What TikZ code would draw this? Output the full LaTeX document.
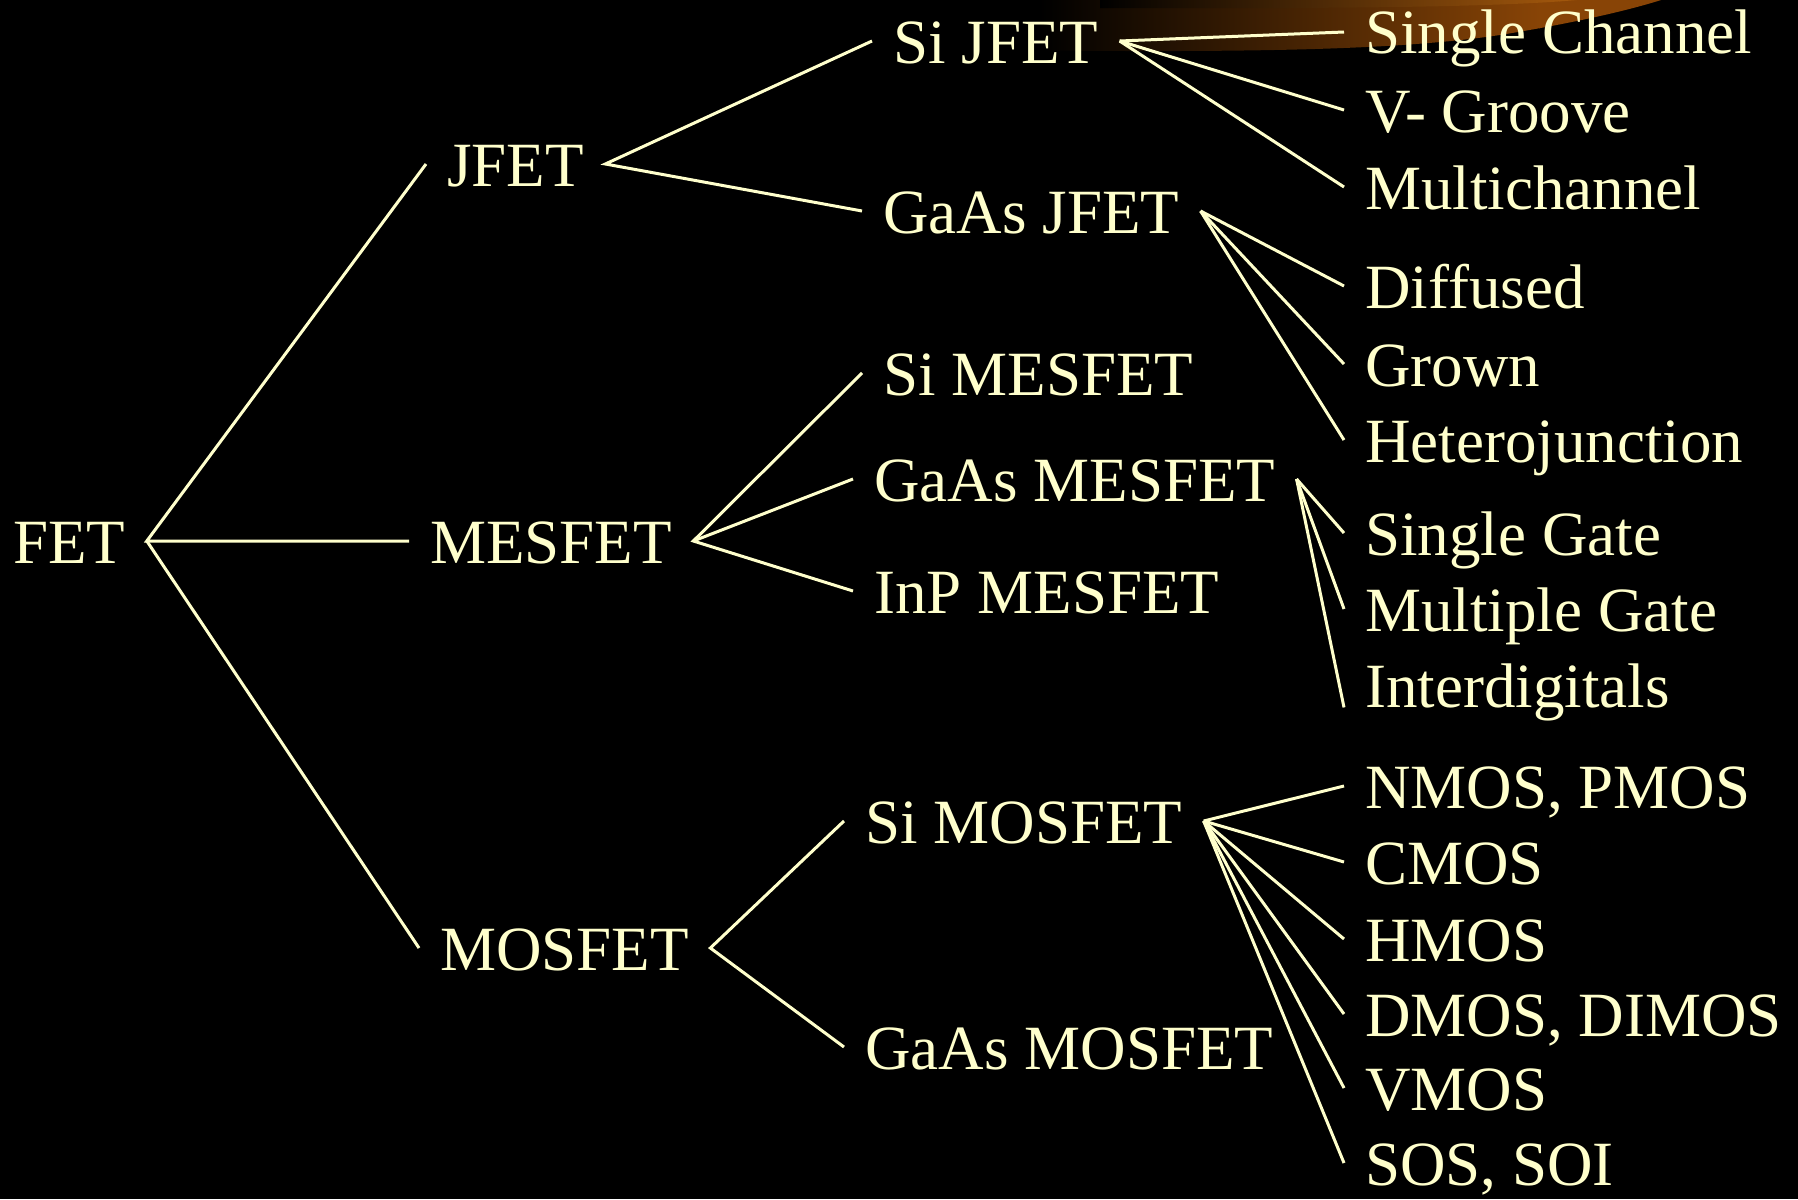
\documentclass[tikz,border=0pt]{standalone}
\usepackage{fontspec}
\setmainfont{Liberation Serif}
\definecolor{cream}{RGB}{255,255,204}
\definecolor{glowlo}{RGB}{136,68,6}
\definecolor{glowhi}{RGB}{160,86,12}

\begin{document}
\begin{tikzpicture}[x=0.5pt,y=-0.5pt,
  lbl/.style={anchor=base west, text=cream,
    font=\fontsize{31.5}{36}\selectfont,
    inner xsep=10.5pt, inner ysep=0pt,
    text height=22pt, text depth=0pt},
  link/.style={draw=cream, line width=1.5pt}]

% page frame and black background
\useasboundingbox (0,0) rectangle (1798,1199);
\fill[black] (0,0) rectangle (1798,1199);
\clip (0,0) rectangle (1798,1199);

% warm swoosh along the top edge
\begin{scope}
  \clip (1000,-5) -- (1000,50) .. controls (1250,53) and (1400,50) .. (1500,35)
        .. controls (1580,22) and (1640,8) .. (1676,-5) -- cycle;
  \shade[left color=black, right color=glowlo] (1040,-5) rectangle (1540,60);
  \fill[glowlo] (1539,-5) rectangle (1700,60);
\end{scope}
\begin{scope}
  \clip (1100,-5) -- (1100,8) .. controls (1400,9) and (1560,6) .. (1615,-5) -- cycle;
  \shade[left color=black, right color=glowhi] (1100,-5) rectangle (1560,12);
  \fill[glowhi] (1559,-5) rectangle (1640,12);
\end{scope}

% level 0
\node[lbl] (fet) at (-8,563) {FET};

% level 1
\node[lbl] (jfet)   at (426,186) {JFET};
\node[lbl] (mesfet) at (409,563) {MESFET};
\node[lbl] (mosfet) at (419,970) {MOSFET};

% level 2
\node[lbl] (sijfet)     at (872,63)   {Si JFET};
\node[lbl] (gaasjfet)   at (862,233)  {GaAs JFET};
\node[lbl] (simesfet)   at (862,395)  {Si MESFET};
\node[lbl] (gaasmesfet) at (853,501)  {GaAs MESFET};
\node[lbl] (inpmesfet)  at (853,613)  {InP MESFET};
\node[lbl] (simosfet)   at (844,843)  {Si MOSFET};
\node[lbl] (gaasmosfet) at (844,1069) {GaAs MOSFET};

% level 3
\node[lbl] (single)  at (1344,54)   {Single Channel};
\node[lbl] (vgroove) at (1344,132)  {V- Groove};
\node[lbl] (multich) at (1344,209)  {Multichannel};
\node[lbl] (diffused) at (1344,308) {Diffused};
\node[lbl] (grown)    at (1344,386) {Grown};
\node[lbl] (hetero)   at (1344,462) {Heterojunction};
\node[lbl] (sgate)    at (1344,555) {Single Gate};
\node[lbl] (mgate)    at (1344,631) {Multiple Gate};
\node[lbl] (interd)   at (1344,707) {Interdigitals};
\node[lbl] (nmos) at (1344,808)  {NMOS, PMOS};
\node[lbl] (cmos) at (1344,884)  {CMOS};
\node[lbl] (hmos) at (1344,961)  {HMOS};
\node[lbl] (dmos) at (1344,1036) {DMOS, DIMOS};
\node[lbl] (vmos) at (1344,1110) {VMOS};
\node[lbl] (sos)  at (1344,1185) {SOS, SOI};

% connectors
\draw[link] (jfet.west) -- (fet.east) -- (mesfet.west);
\draw[link] (fet.east) -- (mosfet.west);

\draw[link] (sijfet.west) -- (jfet.east) -- (gaasjfet.west);
\draw[link] (simesfet.west) -- (mesfet.east) -- (inpmesfet.west);
\draw[link] (mesfet.east) -- (gaasmesfet.west);
\draw[link] (simosfet.west) -- (mosfet.east) -- (gaasmosfet.west);

\foreach \c in {single,vgroove,multich}
  \draw[link] (sijfet.east) -- (\c.west);
\foreach \c in {diffused,grown,hetero}
  \draw[link] (gaasjfet.east) -- (\c.west);
\draw[link] (gaasmesfet.east) -- (sgate.west);
\draw[link] (gaasmesfet.east) -- (mgate.west);
\draw[link] (gaasmesfet.east) -- (interd.south west);
\foreach \c in {nmos,cmos,hmos,dmos,vmos,sos}
  \draw[link] (simosfet.east) -- (\c.west);
\end{tikzpicture}
\end{document}
